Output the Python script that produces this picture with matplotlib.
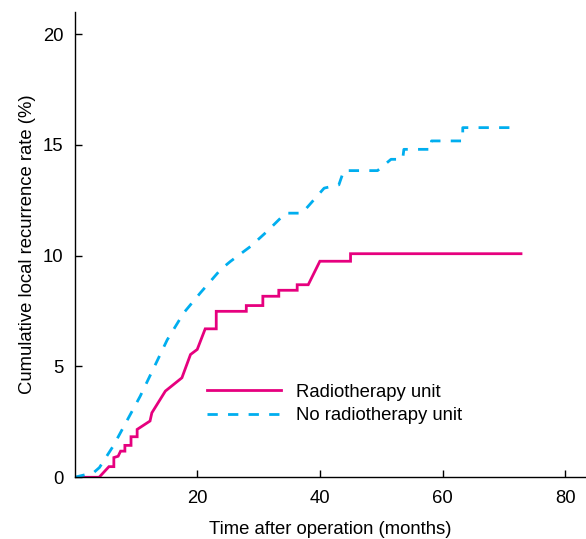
import matplotlib
matplotlib.use('Agg')
import matplotlib.pyplot as plt

plt.rcParams['font.family'] = ['Liberation Sans', 'DejaVu Sans']

# cumulative local recurrence (%) vs months
radio_months = [0, 4.0, 5.6, 6.4, 6.4, 7.1, 7.5, 8.2, 8.2, 9.2, 9.2, 10.2, 10.2,
                12.3, 12.6, 14.8, 17.5, 18.9, 20.0, 21.3, 23.1, 23.1, 28.0, 28.0,
                30.7, 30.7, 33.3, 33.3, 36.3, 36.3, 38.1, 40.0, 45.0, 45.0, 72.8]
radio_rate = [0, 0, 0.48, 0.48, 0.89, 0.95, 1.18, 1.18, 1.44, 1.44, 1.83, 1.83, 2.16,
              2.54, 2.91, 3.89, 4.49, 5.54, 5.77, 6.7, 6.7, 7.49, 7.49, 7.75,
              7.75, 8.17, 8.17, 8.44, 8.44, 8.69, 8.69, 9.75, 9.75, 10.09, 10.09]

noradio_months = [0, 3.1, 4.05, 6.3, 10.7, 13.7, 15.1, 17.8, 20.5, 23.8, 25.4, 28.7,
                  31.4, 34.4, 37.1, 40.7, 43.1, 43.9, 49.4, 51.6, 53.5, 53.7, 58.2,
                  58.2, 63.3, 63.3, 71.8]
noradio_rate = [0, 0.21, 0.44, 1.41, 3.66, 5.39, 6.2, 7.42, 8.32, 9.37, 9.74, 10.42,
                11.1, 11.92, 11.92, 13.05, 13.2, 13.84, 13.84, 14.35, 14.35, 14.8, 14.8,
                15.18, 15.18, 15.78, 15.78]

xticks = [20, 40, 60, 80]
yticks = [0, 5, 10, 15, 20]

magenta = '#E6007E'
cyan = '#00AEEF'
fs = 13.3

fig = plt.figure(figsize=(5.86, 5.39), dpi=100)
ax = fig.add_axes([0.1273, 0.1145, 0.8727, 0.8633])

ax.plot(radio_months, radio_rate, color=magenta, lw=2.0, label='Radiotherapy unit',
        solid_joinstyle='miter')
ax.plot(noradio_months, noradio_rate, color=cyan, lw=2.0, dashes=(3.7, 3.7),
        label='No radiotherapy unit')

ax.set_xlim(0, 83.4)
ax.set_ylim(0, 21.0)
ax.set_xticks(xticks)
ax.set_yticks(yticks)
ax.spines['top'].set_visible(False)
ax.spines['right'].set_visible(False)
for s in ['left', 'bottom']:
    ax.spines[s].set_linewidth(1.0)
ax.tick_params(direction='in', length=5, width=1.0, labelsize=fs)
ax.tick_params(axis='x', pad=9)
ax.tick_params(axis='y', pad=8)

ax.set_xlabel('Time after operation (months)', fontsize=fs, labelpad=10)
ax.set_ylabel('Cumulative local recurrence rate (%)', fontsize=fs, labelpad=5)

ax.legend(loc='center left', bbox_to_anchor=(0.259, 0.1575), frameon=False,
          fontsize=fs, handlelength=4.0, handletextpad=0.8, labelspacing=0.35,
          borderaxespad=0, borderpad=0)

fig.savefig('out.png', dpi=100)
